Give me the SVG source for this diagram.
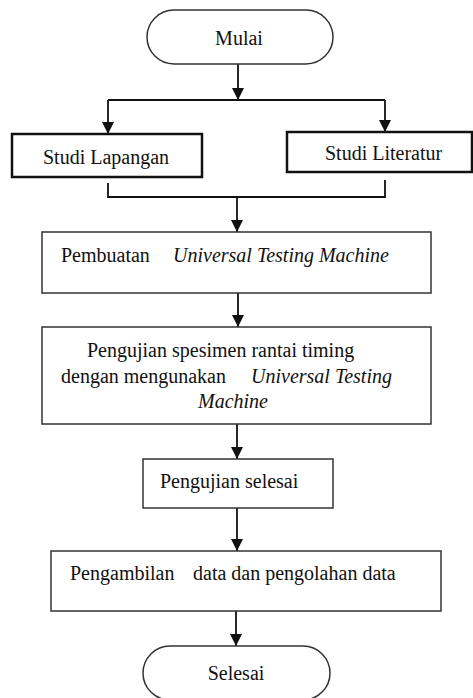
<svg xmlns="http://www.w3.org/2000/svg" width="473" height="698" viewBox="0 0 473 698">
<style>
.box{fill:#fff;stroke:#333;stroke-width:1.5}
.thick{fill:#fff;stroke:#111;stroke-width:2.5}
.ln{fill:none;stroke:#111;stroke-width:1.8}
text{font-family:'Liberation Serif','Times New Roman',serif;font-size:20px;fill:#111}
.it{font-style:italic}
</style>
<defs>
<marker id="ah" markerUnits="userSpaceOnUse" markerWidth="12" markerHeight="12" refX="12" refY="6" orient="auto">
<path d="M0,0 L12,6 L0,12 Z" fill="#111"/>
</marker>
</defs>
<g id="connectors">
<line class="ln" x1="238" y1="64" x2="238" y2="100" marker-end="url(#ah)"/>
<line class="ln" x1="108" y1="100" x2="385" y2="100"/>
<line class="ln" x1="108" y1="100" x2="108" y2="134" marker-end="url(#ah)"/>
<line class="ln" x1="385" y1="100" x2="385" y2="132" marker-end="url(#ah)"/>
<polyline class="ln" points="108,183 108,197 385,197 385,180"/>
<line class="ln" x1="237" y1="197" x2="237" y2="232" marker-end="url(#ah)"/>
<line class="ln" x1="238" y1="293" x2="238" y2="327" marker-end="url(#ah)"/>
<line class="ln" x1="237" y1="424" x2="237" y2="459" marker-end="url(#ah)"/>
<line class="ln" x1="237" y1="508" x2="237" y2="551" marker-end="url(#ah)"/>
<line class="ln" x1="236" y1="611" x2="236" y2="646" marker-end="url(#ah)"/>
</g>
<g id="mulai">
<rect class="box" x="147" y="10" width="186" height="54" rx="27"/>
<text x="239" y="45" text-anchor="middle">Mulai</text>
</g>
<g id="studi-lapangan">
<rect class="thick" x="12" y="134" width="190" height="43"/>
<text x="43" y="164">Studi Lapangan</text>
</g>
<g id="studi-literatur">
<rect class="thick" x="287" y="132" width="185" height="40"/>
<text x="325" y="160">Studi Literatur</text>
</g>
<g id="pembuatan">
<rect class="box" x="42" y="232" width="389" height="61"/>
<text x="61" y="262">Pembuatan</text>
<text class="it" x="173" y="262">Universal Testing Machine</text>
</g>
<g id="pengujian">
<rect class="box" x="42" y="327" width="389" height="97"/>
<text x="87" y="357">Pengujian spesimen rantai timing</text>
<text x="61" y="383">dengan mengunakan</text>
<text class="it" x="251" y="383">Universal Testing</text>
<text class="it" x="198" y="408">Machine</text>
</g>
<g id="pengujian-selesai">
<rect class="box" x="143" y="459" width="190" height="49"/>
<text x="160" y="488">Pengujian selesai</text>
</g>
<g id="pengambilan">
<rect class="box" x="51" y="551" width="390" height="60"/>
<text x="70" y="580">Pengambilan</text>
<text x="193" y="580">data dan pengolahan data</text>
</g>
<g id="selesai">
<rect class="box" x="143" y="646" width="187" height="54" rx="27"/>
<text x="236" y="680" text-anchor="middle">Selesai</text>
</g>
</svg>
